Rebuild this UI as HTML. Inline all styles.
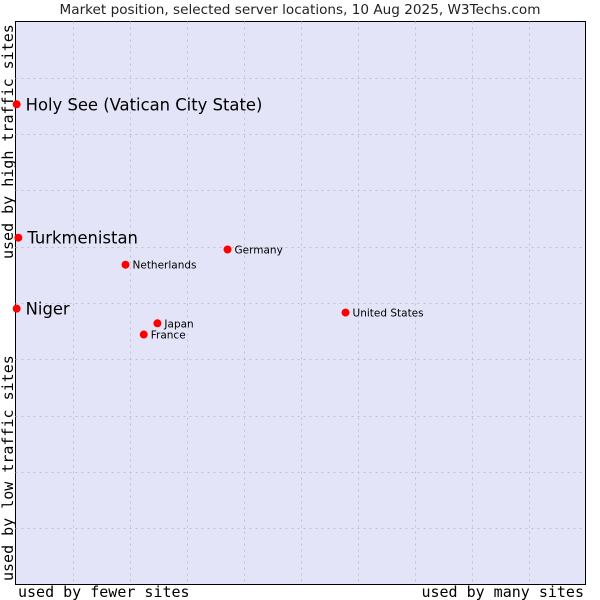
<!DOCTYPE html>
<html><head><meta charset="utf-8"><style>
body{margin:0;background:#fff;width:600px;height:600px;overflow:hidden}
svg{display:block}
</style></head><body>
<svg id="chart" width="600" height="600" xmlns="http://www.w3.org/2000/svg">
<text x="300" y="14" text-anchor="middle" font-family="DejaVu Sans, sans-serif" font-size="13.6" fill="#222">Market position, selected server locations, 10 Aug 2025, W3Techs.com</text>
<rect x="15.5" y="21.5" width="570" height="563" fill="#e4e4f8" stroke="#000"/>
<g id="grid"></g>
<g id="points"></g>
<text x="18" y="597" font-family="DejaVu Sans Mono, monospace" font-size="15" fill="#000">used by fewer sites</text>
<text x="584" y="597" text-anchor="end" font-family="DejaVu Sans Mono, monospace" font-size="15" fill="#000">used by many sites</text>
<text transform="translate(13,581) rotate(-90)" font-family="DejaVu Sans Mono, monospace" font-size="15" fill="#000">used by low traffic sites</text>
<text transform="translate(13,259) rotate(-90)" font-family="DejaVu Sans Mono, monospace" font-size="15" fill="#000">used by high traffic sites</text>
</svg>
<script>
const names = ["Holy See (Vatican City State)","Turkmenistan","Niger","Netherlands","Germany","Japan","France","United States"];
const xValues = [0.2,0.5,0.2,19.3,37.2,24.9,22.5,57.9];
const yValues = [85.3,61.6,49.0,56.8,59.5,46.4,44.4,48.3];
const bigLabel = [true,true,true,false,false,false,false,false];
const gridTicks = [10,20,30,40,50,60,70,80,90];

const L=15.5,R=585.5,T=21.5,B=584.5;
const sx=v=>L+v/100*(R-L);
const sy=v=>B-v/100*(B-T);
const NS="http://www.w3.org/2000/svg";
const grid=document.getElementById('grid');
gridTicks.forEach(t=>{
  const v=document.createElementNS(NS,'line');
  v.setAttribute('x1',Math.round(sx(t))+0.5);v.setAttribute('x2',Math.round(sx(t))+0.5);
  v.setAttribute('y1',T);v.setAttribute('y2',B);
  v.setAttribute('stroke','#c0c0c8');v.setAttribute('stroke-dasharray','2,4');
  
  
  grid.appendChild(v);
  const h=document.createElementNS(NS,'line');
  h.setAttribute('y1',Math.round(sy(t))+0.5);h.setAttribute('y2',Math.round(sy(t))+0.5);
  h.setAttribute('x1',L);h.setAttribute('x2',R);
  h.setAttribute('stroke','#c0c0c8');h.setAttribute('stroke-dasharray','2,4');
  
  
  grid.appendChild(h);
});
const pts=document.getElementById('points');
names.forEach((n,i)=>{
  const x=sx(xValues[i]),y=sy(yValues[i]);
  const c=document.createElementNS(NS,'circle');
  c.setAttribute('cx',x);c.setAttribute('cy',y);c.setAttribute('r',4);c.setAttribute('fill','#ff0000');
  
  
  pts.appendChild(c);
  const t=document.createElementNS(NS,'text');
  t.setAttribute('x',x+(bigLabel[i]?9:7));
  t.setAttribute('y',y+(bigLabel[i]?6:4));
  t.setAttribute('font-family','DejaVu Sans, sans-serif');
  t.setAttribute('font-size',bigLabel[i]?16.4:10.5);
  t.setAttribute('fill','#000');
  t.textContent=n;
  
  
  pts.appendChild(t);
});
</script>
</body></html>
